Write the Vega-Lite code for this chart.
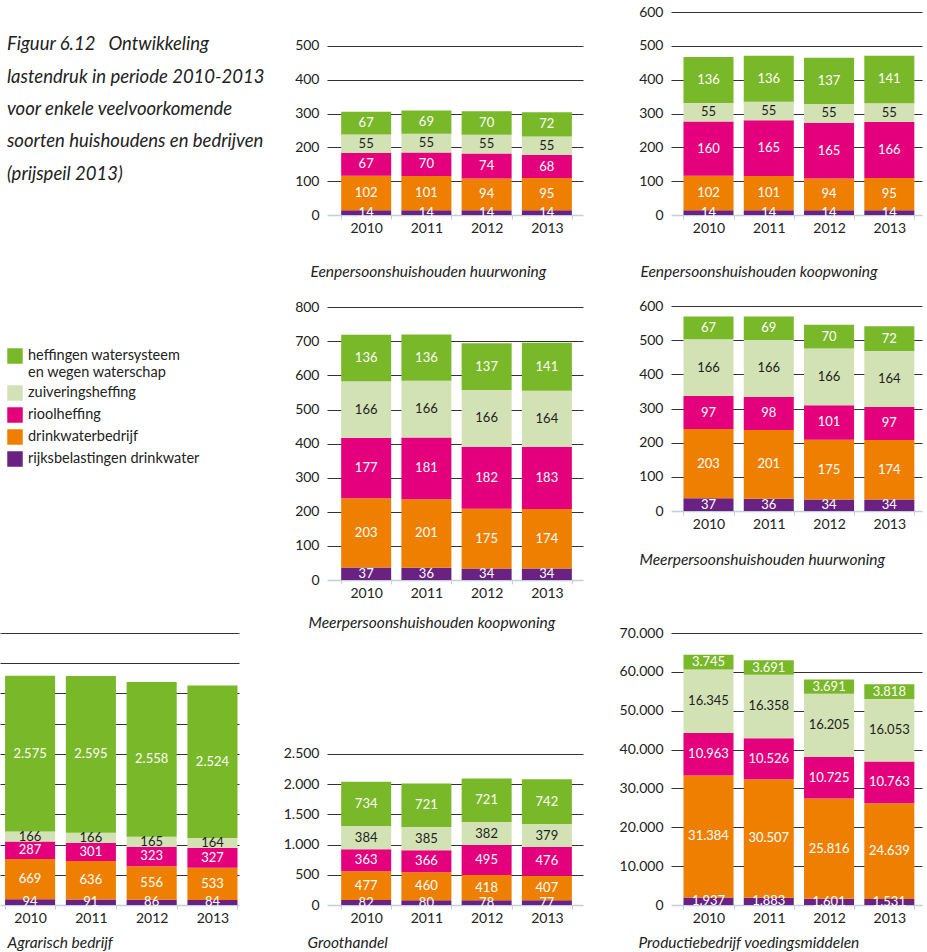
{
  "$schema": "https://vega.github.io/schema/vega-lite/v6.json",
  "background": "white",
  "padding": {"left": 0, "top": 5, "right": 4, "bottom": 2},
  "columns": 3,
  "spacing": {"row": 53, "column": 88},
  "bounds": "flush",
  "align": "each",
  "resolve": {"scale": {"x": "independent", "y": "independent", "color": "shared"}, "legend": {"color": "shared"}},
  "datasets": {
    "kop": [
      {"regel": 1, "tekst": "Figuur 6.12\u00a0\u00a0\u00a0Ontwikkeling"},
      {"regel": 2, "tekst": "lastendruk in periode 2010-2013"},
      {"regel": 3, "tekst": "voor enkele veelvoorkomende"},
      {"regel": 4, "tekst": "soorten huishoudens en bedrijven"},
      {"regel": 5, "tekst": "(prijspeil 2013)"}
    ],
    "A": [
      {"jaar": "2010", "post": "rijksbelastingen drinkwater", "laag": 1, "bedrag": 14},
      {"jaar": "2010", "post": "drinkwaterbedrijf", "laag": 2, "bedrag": 102},
      {"jaar": "2010", "post": "rioolheffing", "laag": 3, "bedrag": 67},
      {"jaar": "2010", "post": "zuiveringsheffing", "laag": 4, "bedrag": 55},
      {"jaar": "2010", "post": "heffingen watersysteem en wegen waterschap", "laag": 5, "bedrag": 67},
      {"jaar": "2011", "post": "rijksbelastingen drinkwater", "laag": 1, "bedrag": 14},
      {"jaar": "2011", "post": "drinkwaterbedrijf", "laag": 2, "bedrag": 101},
      {"jaar": "2011", "post": "rioolheffing", "laag": 3, "bedrag": 70},
      {"jaar": "2011", "post": "zuiveringsheffing", "laag": 4, "bedrag": 55},
      {"jaar": "2011", "post": "heffingen watersysteem en wegen waterschap", "laag": 5, "bedrag": 69},
      {"jaar": "2012", "post": "rijksbelastingen drinkwater", "laag": 1, "bedrag": 14},
      {"jaar": "2012", "post": "drinkwaterbedrijf", "laag": 2, "bedrag": 94},
      {"jaar": "2012", "post": "rioolheffing", "laag": 3, "bedrag": 74},
      {"jaar": "2012", "post": "zuiveringsheffing", "laag": 4, "bedrag": 55},
      {"jaar": "2012", "post": "heffingen watersysteem en wegen waterschap", "laag": 5, "bedrag": 70},
      {"jaar": "2013", "post": "rijksbelastingen drinkwater", "laag": 1, "bedrag": 14},
      {"jaar": "2013", "post": "drinkwaterbedrijf", "laag": 2, "bedrag": 95},
      {"jaar": "2013", "post": "rioolheffing", "laag": 3, "bedrag": 68},
      {"jaar": "2013", "post": "zuiveringsheffing", "laag": 4, "bedrag": 55},
      {"jaar": "2013", "post": "heffingen watersysteem en wegen waterschap", "laag": 5, "bedrag": 72}
    ],
    "B": [
      {"jaar": "2010", "post": "rijksbelastingen drinkwater", "laag": 1, "bedrag": 14},
      {"jaar": "2010", "post": "drinkwaterbedrijf", "laag": 2, "bedrag": 102},
      {"jaar": "2010", "post": "rioolheffing", "laag": 3, "bedrag": 160},
      {"jaar": "2010", "post": "zuiveringsheffing", "laag": 4, "bedrag": 55},
      {"jaar": "2010", "post": "heffingen watersysteem en wegen waterschap", "laag": 5, "bedrag": 136},
      {"jaar": "2011", "post": "rijksbelastingen drinkwater", "laag": 1, "bedrag": 14},
      {"jaar": "2011", "post": "drinkwaterbedrijf", "laag": 2, "bedrag": 101},
      {"jaar": "2011", "post": "rioolheffing", "laag": 3, "bedrag": 165},
      {"jaar": "2011", "post": "zuiveringsheffing", "laag": 4, "bedrag": 55},
      {"jaar": "2011", "post": "heffingen watersysteem en wegen waterschap", "laag": 5, "bedrag": 136},
      {"jaar": "2012", "post": "rijksbelastingen drinkwater", "laag": 1, "bedrag": 14},
      {"jaar": "2012", "post": "drinkwaterbedrijf", "laag": 2, "bedrag": 94},
      {"jaar": "2012", "post": "rioolheffing", "laag": 3, "bedrag": 165},
      {"jaar": "2012", "post": "zuiveringsheffing", "laag": 4, "bedrag": 55},
      {"jaar": "2012", "post": "heffingen watersysteem en wegen waterschap", "laag": 5, "bedrag": 137},
      {"jaar": "2013", "post": "rijksbelastingen drinkwater", "laag": 1, "bedrag": 14},
      {"jaar": "2013", "post": "drinkwaterbedrijf", "laag": 2, "bedrag": 95},
      {"jaar": "2013", "post": "rioolheffing", "laag": 3, "bedrag": 166},
      {"jaar": "2013", "post": "zuiveringsheffing", "laag": 4, "bedrag": 55},
      {"jaar": "2013", "post": "heffingen watersysteem en wegen waterschap", "laag": 5, "bedrag": 141}
    ],
    "C": [
      {"jaar": "2010", "post": "rijksbelastingen drinkwater", "laag": 1, "bedrag": 37},
      {"jaar": "2010", "post": "drinkwaterbedrijf", "laag": 2, "bedrag": 203},
      {"jaar": "2010", "post": "rioolheffing", "laag": 3, "bedrag": 177},
      {"jaar": "2010", "post": "zuiveringsheffing", "laag": 4, "bedrag": 166},
      {"jaar": "2010", "post": "heffingen watersysteem en wegen waterschap", "laag": 5, "bedrag": 136},
      {"jaar": "2011", "post": "rijksbelastingen drinkwater", "laag": 1, "bedrag": 36},
      {"jaar": "2011", "post": "drinkwaterbedrijf", "laag": 2, "bedrag": 201},
      {"jaar": "2011", "post": "rioolheffing", "laag": 3, "bedrag": 181},
      {"jaar": "2011", "post": "zuiveringsheffing", "laag": 4, "bedrag": 166},
      {"jaar": "2011", "post": "heffingen watersysteem en wegen waterschap", "laag": 5, "bedrag": 136},
      {"jaar": "2012", "post": "rijksbelastingen drinkwater", "laag": 1, "bedrag": 34},
      {"jaar": "2012", "post": "drinkwaterbedrijf", "laag": 2, "bedrag": 175},
      {"jaar": "2012", "post": "rioolheffing", "laag": 3, "bedrag": 182},
      {"jaar": "2012", "post": "zuiveringsheffing", "laag": 4, "bedrag": 166},
      {"jaar": "2012", "post": "heffingen watersysteem en wegen waterschap", "laag": 5, "bedrag": 137},
      {"jaar": "2013", "post": "rijksbelastingen drinkwater", "laag": 1, "bedrag": 34},
      {"jaar": "2013", "post": "drinkwaterbedrijf", "laag": 2, "bedrag": 174},
      {"jaar": "2013", "post": "rioolheffing", "laag": 3, "bedrag": 183},
      {"jaar": "2013", "post": "zuiveringsheffing", "laag": 4, "bedrag": 164},
      {"jaar": "2013", "post": "heffingen watersysteem en wegen waterschap", "laag": 5, "bedrag": 141}
    ],
    "D": [
      {"jaar": "2010", "post": "rijksbelastingen drinkwater", "laag": 1, "bedrag": 37},
      {"jaar": "2010", "post": "drinkwaterbedrijf", "laag": 2, "bedrag": 203},
      {"jaar": "2010", "post": "rioolheffing", "laag": 3, "bedrag": 97},
      {"jaar": "2010", "post": "zuiveringsheffing", "laag": 4, "bedrag": 166},
      {"jaar": "2010", "post": "heffingen watersysteem en wegen waterschap", "laag": 5, "bedrag": 67},
      {"jaar": "2011", "post": "rijksbelastingen drinkwater", "laag": 1, "bedrag": 36},
      {"jaar": "2011", "post": "drinkwaterbedrijf", "laag": 2, "bedrag": 201},
      {"jaar": "2011", "post": "rioolheffing", "laag": 3, "bedrag": 98},
      {"jaar": "2011", "post": "zuiveringsheffing", "laag": 4, "bedrag": 166},
      {"jaar": "2011", "post": "heffingen watersysteem en wegen waterschap", "laag": 5, "bedrag": 69},
      {"jaar": "2012", "post": "rijksbelastingen drinkwater", "laag": 1, "bedrag": 34},
      {"jaar": "2012", "post": "drinkwaterbedrijf", "laag": 2, "bedrag": 175},
      {"jaar": "2012", "post": "rioolheffing", "laag": 3, "bedrag": 101},
      {"jaar": "2012", "post": "zuiveringsheffing", "laag": 4, "bedrag": 166},
      {"jaar": "2012", "post": "heffingen watersysteem en wegen waterschap", "laag": 5, "bedrag": 70},
      {"jaar": "2013", "post": "rijksbelastingen drinkwater", "laag": 1, "bedrag": 34},
      {"jaar": "2013", "post": "drinkwaterbedrijf", "laag": 2, "bedrag": 174},
      {"jaar": "2013", "post": "rioolheffing", "laag": 3, "bedrag": 97},
      {"jaar": "2013", "post": "zuiveringsheffing", "laag": 4, "bedrag": 164},
      {"jaar": "2013", "post": "heffingen watersysteem en wegen waterschap", "laag": 5, "bedrag": 72}
    ],
    "E": [
      {"jaar": "2010", "post": "rijksbelastingen drinkwater", "laag": 1, "bedrag": 94},
      {"jaar": "2010", "post": "drinkwaterbedrijf", "laag": 2, "bedrag": 669},
      {"jaar": "2010", "post": "rioolheffing", "laag": 3, "bedrag": 287},
      {"jaar": "2010", "post": "zuiveringsheffing", "laag": 4, "bedrag": 166},
      {"jaar": "2010", "post": "heffingen watersysteem en wegen waterschap", "laag": 5, "bedrag": 2575},
      {"jaar": "2011", "post": "rijksbelastingen drinkwater", "laag": 1, "bedrag": 91},
      {"jaar": "2011", "post": "drinkwaterbedrijf", "laag": 2, "bedrag": 636},
      {"jaar": "2011", "post": "rioolheffing", "laag": 3, "bedrag": 301},
      {"jaar": "2011", "post": "zuiveringsheffing", "laag": 4, "bedrag": 166},
      {"jaar": "2011", "post": "heffingen watersysteem en wegen waterschap", "laag": 5, "bedrag": 2595},
      {"jaar": "2012", "post": "rijksbelastingen drinkwater", "laag": 1, "bedrag": 86},
      {"jaar": "2012", "post": "drinkwaterbedrijf", "laag": 2, "bedrag": 556},
      {"jaar": "2012", "post": "rioolheffing", "laag": 3, "bedrag": 323},
      {"jaar": "2012", "post": "zuiveringsheffing", "laag": 4, "bedrag": 165},
      {"jaar": "2012", "post": "heffingen watersysteem en wegen waterschap", "laag": 5, "bedrag": 2558},
      {"jaar": "2013", "post": "rijksbelastingen drinkwater", "laag": 1, "bedrag": 84},
      {"jaar": "2013", "post": "drinkwaterbedrijf", "laag": 2, "bedrag": 533},
      {"jaar": "2013", "post": "rioolheffing", "laag": 3, "bedrag": 327},
      {"jaar": "2013", "post": "zuiveringsheffing", "laag": 4, "bedrag": 164},
      {"jaar": "2013", "post": "heffingen watersysteem en wegen waterschap", "laag": 5, "bedrag": 2524}
    ],
    "F": [
      {"jaar": "2010", "post": "rijksbelastingen drinkwater", "laag": 1, "bedrag": 82},
      {"jaar": "2010", "post": "drinkwaterbedrijf", "laag": 2, "bedrag": 477},
      {"jaar": "2010", "post": "rioolheffing", "laag": 3, "bedrag": 363},
      {"jaar": "2010", "post": "zuiveringsheffing", "laag": 4, "bedrag": 384},
      {"jaar": "2010", "post": "heffingen watersysteem en wegen waterschap", "laag": 5, "bedrag": 734},
      {"jaar": "2011", "post": "rijksbelastingen drinkwater", "laag": 1, "bedrag": 80},
      {"jaar": "2011", "post": "drinkwaterbedrijf", "laag": 2, "bedrag": 460},
      {"jaar": "2011", "post": "rioolheffing", "laag": 3, "bedrag": 366},
      {"jaar": "2011", "post": "zuiveringsheffing", "laag": 4, "bedrag": 385},
      {"jaar": "2011", "post": "heffingen watersysteem en wegen waterschap", "laag": 5, "bedrag": 721},
      {"jaar": "2012", "post": "rijksbelastingen drinkwater", "laag": 1, "bedrag": 78},
      {"jaar": "2012", "post": "drinkwaterbedrijf", "laag": 2, "bedrag": 418},
      {"jaar": "2012", "post": "rioolheffing", "laag": 3, "bedrag": 495},
      {"jaar": "2012", "post": "zuiveringsheffing", "laag": 4, "bedrag": 382},
      {"jaar": "2012", "post": "heffingen watersysteem en wegen waterschap", "laag": 5, "bedrag": 721},
      {"jaar": "2013", "post": "rijksbelastingen drinkwater", "laag": 1, "bedrag": 77},
      {"jaar": "2013", "post": "drinkwaterbedrijf", "laag": 2, "bedrag": 407},
      {"jaar": "2013", "post": "rioolheffing", "laag": 3, "bedrag": 476},
      {"jaar": "2013", "post": "zuiveringsheffing", "laag": 4, "bedrag": 379},
      {"jaar": "2013", "post": "heffingen watersysteem en wegen waterschap", "laag": 5, "bedrag": 742}
    ],
    "G": [
      {"jaar": "2010", "post": "rijksbelastingen drinkwater", "laag": 1, "bedrag": 1937},
      {"jaar": "2010", "post": "drinkwaterbedrijf", "laag": 2, "bedrag": 31384},
      {"jaar": "2010", "post": "rioolheffing", "laag": 3, "bedrag": 10963},
      {"jaar": "2010", "post": "zuiveringsheffing", "laag": 4, "bedrag": 16345},
      {"jaar": "2010", "post": "heffingen watersysteem en wegen waterschap", "laag": 5, "bedrag": 3745},
      {"jaar": "2011", "post": "rijksbelastingen drinkwater", "laag": 1, "bedrag": 1883},
      {"jaar": "2011", "post": "drinkwaterbedrijf", "laag": 2, "bedrag": 30507},
      {"jaar": "2011", "post": "rioolheffing", "laag": 3, "bedrag": 10526},
      {"jaar": "2011", "post": "zuiveringsheffing", "laag": 4, "bedrag": 16358},
      {"jaar": "2011", "post": "heffingen watersysteem en wegen waterschap", "laag": 5, "bedrag": 3691},
      {"jaar": "2012", "post": "rijksbelastingen drinkwater", "laag": 1, "bedrag": 1601},
      {"jaar": "2012", "post": "drinkwaterbedrijf", "laag": 2, "bedrag": 25816},
      {"jaar": "2012", "post": "rioolheffing", "laag": 3, "bedrag": 10725},
      {"jaar": "2012", "post": "zuiveringsheffing", "laag": 4, "bedrag": 16205},
      {"jaar": "2012", "post": "heffingen watersysteem en wegen waterschap", "laag": 5, "bedrag": 3691},
      {"jaar": "2013", "post": "rijksbelastingen drinkwater", "laag": 1, "bedrag": 1531},
      {"jaar": "2013", "post": "drinkwaterbedrijf", "laag": 2, "bedrag": 24639},
      {"jaar": "2013", "post": "rioolheffing", "laag": 3, "bedrag": 10763},
      {"jaar": "2013", "post": "zuiveringsheffing", "laag": 4, "bedrag": 16053},
      {"jaar": "2013", "post": "heffingen watersysteem en wegen waterschap", "laag": 5, "bedrag": 3818}
    ]
  },
  "concat": [
    {
      "width": 239, "height": 194,
      "data": {"name": "kop"},
      "mark": {"type": "text", "align": "left", "baseline": "middle", "font": "Lato", "fontSize": 18.5, "fontStyle": "italic", "color": "#222222"},
      "encoding": {
        "x": {"datum": 0, "type": "quantitative", "scale": {"domain": [-0.03, 1], "nice": false, "zero": false}, "axis": null},
        "y": {"field": "regel", "type": "ordinal", "scale": {"type": "point", "padding": 1.12}, "axis": null},
        "text": {"field": "tekst", "type": "nominal"}
      }
    },
    {
      "data": {"name": "A"},
      "width": 256, "height": 203,
      "layer": [
        {
          "mark": {"type": "bar"},
          "encoding": {
            "x": {"field": "jaar", "type": "ordinal", "scale": {"paddingInner": 0.17, "paddingOuter": 0.21, "align": 0.56}, "axis": {"title": "Eenpersoonshuishouden huurwoning", "titleX": -17, "titleY": 56}},
            "y": {"field": "bedrag", "type": "quantitative", "stack": "zero", "scale": {"domain": [0, 600], "nice": false}, "axis": {"title": null, "tickCount": 30, "values": [0, 100, 200, 300, 400, 500], "gridOpacity": {"condition": {"test": "datum.value === 0", "value": 0}, "value": 1}}},
            "color": {"field": "post", "type": "nominal", "scale": {"domain": ["heffingen watersysteem en wegen waterschap", "zuiveringsheffing", "rioolheffing", "drinkwaterbedrijf", "rijksbelastingen drinkwater"], "range": ["#78b829", "#d2e2b5", "#e4007c", "#ee7f00", "#6a2282"]}, "legend": {"orient": "none", "legendX": 7, "legendY": 336, "title": null, "symbolType": "square", "symbolSize": 240, "symbolStrokeWidth": 0, "symbolOpacity": 1, "labelFont": "Lato", "labelFontSize": 14.5, "labelColor": "#222222", "labelOffset": 5, "labelLimit": 300, "rowPadding": 6, "labelExpr": "datum.label == 'heffingen watersysteem en wegen waterschap' ? ['heffingen watersysteem', 'en wegen waterschap'] : datum.label"}},
            "order": {"field": "laag", "type": "quantitative", "sort": "ascending"}
          }
        },
        {
          "mark": {"type": "text", "font": "Lato", "fontSize": 13, "baseline": "middle"},
          "encoding": {
            "x": {"field": "jaar", "type": "ordinal"},
            "y": {"field": "bedrag", "type": "quantitative", "stack": "zero", "bandPosition": 0.5},
            "detail": {"field": "post", "type": "nominal"},
            "order": {"field": "laag", "type": "quantitative", "sort": "ascending"},
            "text": {"field": "bedrag", "type": "quantitative", "format": ",d"},
            "color": {"condition": {"test": "datum.post === 'zuiveringsheffing'", "value": "#1e1e1e"}, "value": "#ffffff"}
          }
        }
      ]
    },
    {
      "data": {"name": "B"},
      "width": 251, "height": 203,
      "layer": [
        {
          "mark": {"type": "bar"},
          "encoding": {
            "x": {"field": "jaar", "type": "ordinal", "scale": {"paddingInner": 0.17, "paddingOuter": 0.167, "align": 0.62}, "axis": {"title": "Eenpersoonshuishouden koopwoning", "titleX": -31, "titleY": 56}},
            "y": {"field": "bedrag", "type": "quantitative", "stack": "zero", "scale": {"domain": [0, 600], "nice": false}, "axis": {"title": null, "tickCount": 30, "values": [0, 100, 200, 300, 400, 500, 600], "gridOpacity": {"condition": {"test": "datum.value === 0", "value": 0}, "value": 1}}},
            "color": {"field": "post", "type": "nominal", "scale": {"domain": ["heffingen watersysteem en wegen waterschap", "zuiveringsheffing", "rioolheffing", "drinkwaterbedrijf", "rijksbelastingen drinkwater"], "range": ["#78b829", "#d2e2b5", "#e4007c", "#ee7f00", "#6a2282"]}, "legend": {"orient": "none", "legendX": 7, "legendY": 336, "title": null, "symbolType": "square", "symbolSize": 240, "symbolStrokeWidth": 0, "symbolOpacity": 1, "labelFont": "Lato", "labelFontSize": 14.5, "labelColor": "#222222", "labelOffset": 5, "labelLimit": 300, "rowPadding": 6, "labelExpr": "datum.label == 'heffingen watersysteem en wegen waterschap' ? ['heffingen watersysteem', 'en wegen waterschap'] : datum.label"}},
            "order": {"field": "laag", "type": "quantitative", "sort": "ascending"}
          }
        },
        {
          "mark": {"type": "text", "font": "Lato", "fontSize": 13, "baseline": "middle"},
          "encoding": {
            "x": {"field": "jaar", "type": "ordinal"},
            "y": {"field": "bedrag", "type": "quantitative", "stack": "zero", "bandPosition": 0.5},
            "detail": {"field": "post", "type": "nominal"},
            "order": {"field": "laag", "type": "quantitative", "sort": "ascending"},
            "text": {"field": "bedrag", "type": "quantitative", "format": ",d"},
            "color": {"condition": {"test": "datum.post === 'zuiveringsheffing'", "value": "#1e1e1e"}, "value": "#ffffff"}
          }
        }
      ]
    },
    {
      "width": 239, "height": 10,
      "data": {"values": []},
      "mark": {"type": "point", "opacity": 0},
      "encoding": {}
    },
    {
      "data": {"name": "C"},
      "width": 256, "height": 312,
      "layer": [
        {
          "mark": {"type": "bar"},
          "encoding": {
            "x": {"field": "jaar", "type": "ordinal", "scale": {"paddingInner": 0.17, "paddingOuter": 0.21, "align": 0.56}, "axis": {"title": "Meerpersoonshuishouden koopwoning", "titleX": -19, "titleY": 42}},
            "y": {"field": "bedrag", "type": "quantitative", "stack": "zero", "scale": {"domain": [0, 915], "nice": false}, "axis": {"title": null, "tickCount": 30, "values": [0, 100, 200, 300, 400, 500, 600, 700, 800], "gridOpacity": {"condition": {"test": "datum.value === 0", "value": 0}, "value": 1}}},
            "color": {"field": "post", "type": "nominal", "scale": {"domain": ["heffingen watersysteem en wegen waterschap", "zuiveringsheffing", "rioolheffing", "drinkwaterbedrijf", "rijksbelastingen drinkwater"], "range": ["#78b829", "#d2e2b5", "#e4007c", "#ee7f00", "#6a2282"]}, "legend": {"orient": "none", "legendX": 7, "legendY": 336, "title": null, "symbolType": "square", "symbolSize": 240, "symbolStrokeWidth": 0, "symbolOpacity": 1, "labelFont": "Lato", "labelFontSize": 14.5, "labelColor": "#222222", "labelOffset": 5, "labelLimit": 300, "rowPadding": 6, "labelExpr": "datum.label == 'heffingen watersysteem en wegen waterschap' ? ['heffingen watersysteem', 'en wegen waterschap'] : datum.label"}},
            "order": {"field": "laag", "type": "quantitative", "sort": "ascending"}
          }
        },
        {
          "mark": {"type": "text", "font": "Lato", "fontSize": 13, "baseline": "middle"},
          "encoding": {
            "x": {"field": "jaar", "type": "ordinal"},
            "y": {"field": "bedrag", "type": "quantitative", "stack": "zero", "bandPosition": 0.5},
            "detail": {"field": "post", "type": "nominal"},
            "order": {"field": "laag", "type": "quantitative", "sort": "ascending"},
            "text": {"field": "bedrag", "type": "quantitative", "format": ",d"},
            "color": {"condition": {"test": "datum.post === 'zuiveringsheffing'", "value": "#1e1e1e"}, "value": "#ffffff"}
          }
        }
      ]
    },
    {
      "data": {"name": "D"},
      "width": 251, "height": 243,
      "layer": [
        {
          "mark": {"type": "bar"},
          "encoding": {
            "x": {"field": "jaar", "type": "ordinal", "scale": {"paddingInner": 0.17, "paddingOuter": 0.167, "align": 0.62}, "axis": {"title": "Meerpersoonshuishouden huurwoning", "titleX": -32, "titleY": 48}},
            "y": {"field": "bedrag", "type": "quantitative", "stack": "zero", "scale": {"domain": [0, 712], "nice": false}, "axis": {"title": null, "tickCount": 30, "values": [0, 100, 200, 300, 400, 500, 600], "gridOpacity": {"condition": {"test": "datum.value === 0", "value": 0}, "value": 1}}},
            "color": {"field": "post", "type": "nominal", "scale": {"domain": ["heffingen watersysteem en wegen waterschap", "zuiveringsheffing", "rioolheffing", "drinkwaterbedrijf", "rijksbelastingen drinkwater"], "range": ["#78b829", "#d2e2b5", "#e4007c", "#ee7f00", "#6a2282"]}, "legend": {"orient": "none", "legendX": 7, "legendY": 336, "title": null, "symbolType": "square", "symbolSize": 240, "symbolStrokeWidth": 0, "symbolOpacity": 1, "labelFont": "Lato", "labelFontSize": 14.5, "labelColor": "#222222", "labelOffset": 5, "labelLimit": 300, "rowPadding": 6, "labelExpr": "datum.label == 'heffingen watersysteem en wegen waterschap' ? ['heffingen watersysteem', 'en wegen waterschap'] : datum.label"}},
            "order": {"field": "laag", "type": "quantitative", "sort": "ascending"}
          }
        },
        {
          "mark": {"type": "text", "font": "Lato", "fontSize": 13, "baseline": "middle"},
          "encoding": {
            "x": {"field": "jaar", "type": "ordinal"},
            "y": {"field": "bedrag", "type": "quantitative", "stack": "zero", "bandPosition": 0.5},
            "detail": {"field": "post", "type": "nominal"},
            "order": {"field": "laag", "type": "quantitative", "sort": "ascending"},
            "text": {"field": "bedrag", "type": "quantitative", "format": ",d"},
            "color": {"condition": {"test": "datum.post === 'zuiveringsheffing'", "value": "#1e1e1e"}, "value": "#ffffff"}
          }
        }
      ]
    },
    {
      "data": {"name": "E"},
      "width": 239, "height": 272,
      "layer": [
        {
          "mark": {"type": "bar"},
          "encoding": {
            "x": {"field": "jaar", "type": "ordinal", "scale": {"paddingInner": 0.176, "paddingOuter": 0.054, "align": 0.77}, "axis": {"title": "Agrarisch bedrijf", "titleX": 7, "titleY": 37}},
            "y": {"field": "bedrag", "type": "quantitative", "stack": "zero", "scale": {"domain": [0, 4500], "nice": false}, "axis": {"title": null, "labels": false, "tickCount": 30, "values": [0, 500, 1000, 1500, 2000, 2500, 3000, 3500, 4000, 4500], "gridOpacity": {"condition": {"test": "datum.value === 0", "value": 0}, "value": 1}}},
            "color": {"field": "post", "type": "nominal", "scale": {"domain": ["heffingen watersysteem en wegen waterschap", "zuiveringsheffing", "rioolheffing", "drinkwaterbedrijf", "rijksbelastingen drinkwater"], "range": ["#78b829", "#d2e2b5", "#e4007c", "#ee7f00", "#6a2282"]}, "legend": {"orient": "none", "legendX": 7, "legendY": 336, "title": null, "symbolType": "square", "symbolSize": 240, "symbolStrokeWidth": 0, "symbolOpacity": 1, "labelFont": "Lato", "labelFontSize": 14.5, "labelColor": "#222222", "labelOffset": 5, "labelLimit": 300, "rowPadding": 6, "labelExpr": "datum.label == 'heffingen watersysteem en wegen waterschap' ? ['heffingen watersysteem', 'en wegen waterschap'] : datum.label"}},
            "order": {"field": "laag", "type": "quantitative", "sort": "ascending"}
          }
        },
        {
          "mark": {"type": "text", "font": "Lato", "fontSize": 13, "baseline": "middle"},
          "encoding": {
            "x": {"field": "jaar", "type": "ordinal"},
            "y": {"field": "bedrag", "type": "quantitative", "stack": "zero", "bandPosition": 0.5},
            "detail": {"field": "post", "type": "nominal"},
            "order": {"field": "laag", "type": "quantitative", "sort": "ascending"},
            "text": {"field": "bedrag", "type": "quantitative", "format": ",d"},
            "color": {"condition": {"test": "datum.post === 'zuiveringsheffing'", "value": "#1e1e1e"}, "value": "#ffffff"}
          }
        }
      ]
    },
    {
      "data": {"name": "F"},
      "width": 256, "height": 272,
      "layer": [
        {
          "mark": {"type": "bar"},
          "encoding": {
            "x": {"field": "jaar", "type": "ordinal", "scale": {"paddingInner": 0.17, "paddingOuter": 0.21, "align": 0.56}, "axis": {"title": "Groothandel", "titleX": -20, "titleY": 37}},
            "y": {"field": "bedrag", "type": "quantitative", "stack": "zero", "scale": {"domain": [0, 4500], "nice": false}, "axis": {"title": null, "tickCount": 30, "values": [0, 500, 1000, 1500, 2000, 2500], "gridOpacity": {"condition": {"test": "datum.value === 0", "value": 0}, "value": 1}}},
            "color": {"field": "post", "type": "nominal", "scale": {"domain": ["heffingen watersysteem en wegen waterschap", "zuiveringsheffing", "rioolheffing", "drinkwaterbedrijf", "rijksbelastingen drinkwater"], "range": ["#78b829", "#d2e2b5", "#e4007c", "#ee7f00", "#6a2282"]}, "legend": {"orient": "none", "legendX": 7, "legendY": 336, "title": null, "symbolType": "square", "symbolSize": 240, "symbolStrokeWidth": 0, "symbolOpacity": 1, "labelFont": "Lato", "labelFontSize": 14.5, "labelColor": "#222222", "labelOffset": 5, "labelLimit": 300, "rowPadding": 6, "labelExpr": "datum.label == 'heffingen watersysteem en wegen waterschap' ? ['heffingen watersysteem', 'en wegen waterschap'] : datum.label"}},
            "order": {"field": "laag", "type": "quantitative", "sort": "ascending"}
          }
        },
        {
          "mark": {"type": "text", "font": "Lato", "fontSize": 13, "baseline": "middle"},
          "encoding": {
            "x": {"field": "jaar", "type": "ordinal"},
            "y": {"field": "bedrag", "type": "quantitative", "stack": "zero", "bandPosition": 0.5},
            "detail": {"field": "post", "type": "nominal"},
            "order": {"field": "laag", "type": "quantitative", "sort": "ascending"},
            "text": {"field": "bedrag", "type": "quantitative", "format": ",d"},
            "color": {"condition": {"test": "datum.post === 'zuiveringsheffing'", "value": "#1e1e1e"}, "value": "#ffffff"}
          }
        }
      ]
    },
    {
      "data": {"name": "G"},
      "width": 251, "height": 272,
      "layer": [
        {
          "mark": {"type": "bar"},
          "encoding": {
            "x": {"field": "jaar", "type": "ordinal", "scale": {"paddingInner": 0.17, "paddingOuter": 0.167, "align": 0.62}, "axis": {"title": "Productiebedrijf voedingsmiddelen", "titleX": -33, "titleY": 37}},
            "y": {"field": "bedrag", "type": "quantitative", "stack": "zero", "scale": {"domain": [0, 70000], "nice": false}, "axis": {"title": null, "tickCount": 30, "values": [0, 10000, 20000, 30000, 40000, 50000, 60000, 70000], "gridOpacity": {"condition": {"test": "datum.value === 0", "value": 0}, "value": 1}}},
            "color": {"field": "post", "type": "nominal", "scale": {"domain": ["heffingen watersysteem en wegen waterschap", "zuiveringsheffing", "rioolheffing", "drinkwaterbedrijf", "rijksbelastingen drinkwater"], "range": ["#78b829", "#d2e2b5", "#e4007c", "#ee7f00", "#6a2282"]}, "legend": {"orient": "none", "legendX": 7, "legendY": 336, "title": null, "symbolType": "square", "symbolSize": 240, "symbolStrokeWidth": 0, "symbolOpacity": 1, "labelFont": "Lato", "labelFontSize": 14.5, "labelColor": "#222222", "labelOffset": 5, "labelLimit": 300, "rowPadding": 6, "labelExpr": "datum.label == 'heffingen watersysteem en wegen waterschap' ? ['heffingen watersysteem', 'en wegen waterschap'] : datum.label"}},
            "order": {"field": "laag", "type": "quantitative", "sort": "ascending"}
          }
        },
        {
          "mark": {"type": "text", "font": "Lato", "fontSize": 13, "baseline": "middle"},
          "encoding": {
            "x": {"field": "jaar", "type": "ordinal"},
            "y": {"field": "bedrag", "type": "quantitative", "stack": "zero", "bandPosition": 0.5},
            "detail": {"field": "post", "type": "nominal"},
            "order": {"field": "laag", "type": "quantitative", "sort": "ascending"},
            "text": {"field": "bedrag", "type": "quantitative", "format": ",d"},
            "color": {"condition": {"test": "datum.post === 'zuiveringsheffing'", "value": "#1e1e1e"}, "value": "#ffffff"}
          }
        }
      ]
    }
  ],
  "config": {
    "font": "Lato",
    "view": {"stroke": null},
    "locale": {"number": {"decimal": ",", "thousands": ".", "grouping": [3], "currency": ["€ ", ""]}},
    "axis": {"labelFont": "Lato", "labelFontSize": 14, "labelColor": "#222222", "titleFont": "Lato", "titleFontSize": 15.5, "titleFontStyle": "italic", "titleFontWeight": "normal", "titleColor": "#222222"},
    "axisX": {"domainColor": "#c3cedb", "domainWidth": 1.5, "tickColor": "#c3cedb", "tickSize": 4, "tickWidth": 1, "tickBand": "extent", "labelAngle": 0, "labelPadding": 2, "grid": false, "titleAlign": "left", "titleBaseline": "middle"},
    "axisY": {"domain": false, "ticks": false, "grid": true, "gridColor": "#333333", "gridWidth": 1.2, "labelPadding": 8, "format": ",d", "labelOverlap": false}
  }
}
